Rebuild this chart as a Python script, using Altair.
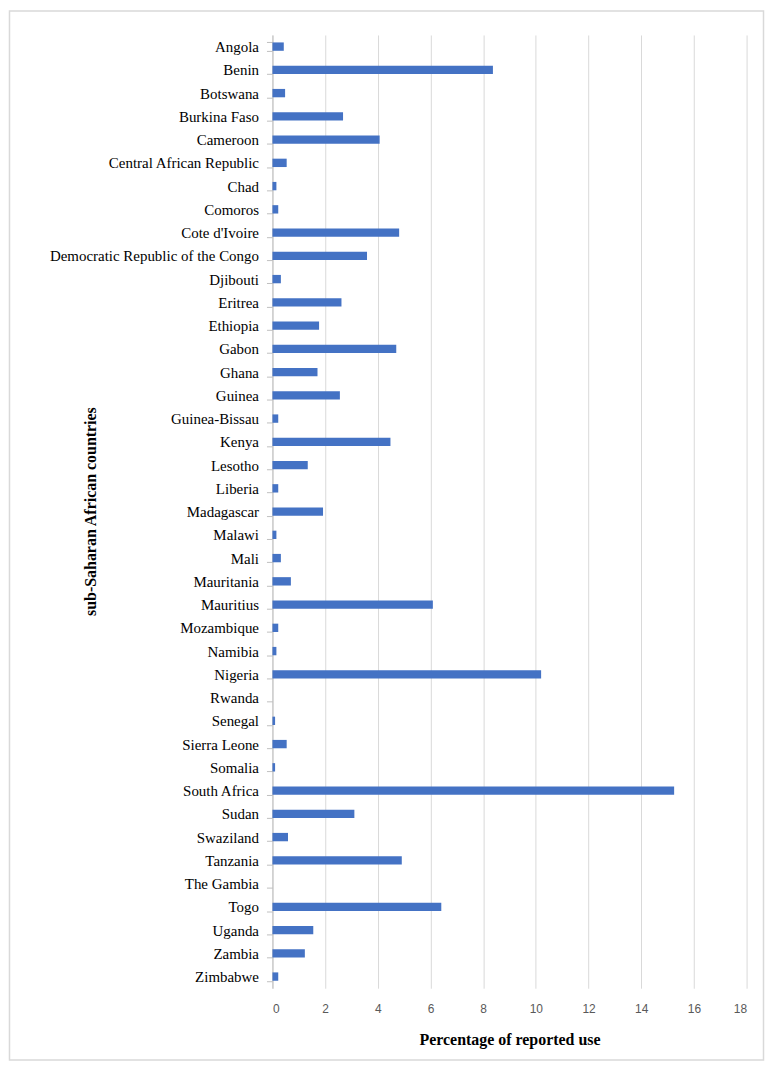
import altair as alt
import pandas as pd

countries = [
    "Angola", "Benin", "Botswana", "Burkina Faso", "Cameroon",
    "Central African Republic", "Chad", "Comoros", "Cote d'Ivoire",
    "Democratic Republic of the Congo", "Djibouti", "Eritrea", "Ethiopia",
    "Gabon", "Ghana", "Guinea", "Guinea-Bissau", "Kenya", "Lesotho",
    "Liberia", "Madagascar", "Malawi", "Mali", "Mauritania", "Mauritius",
    "Mozambique", "Namibia", "Nigeria", "Rwanda", "Senegal", "Sierra Leone",
    "Somalia", "South Africa", "Sudan", "Swaziland", "Tanzania",
    "The Gambia", "Togo", "Uganda", "Zambia", "Zimbabwe",
]
values = [
    0.43, 8.37, 0.48, 2.68, 4.07,
    0.54, 0.15, 0.22, 4.81,
    3.59, 0.32, 2.62, 1.77,
    4.70, 1.71, 2.56, 0.22, 4.48, 1.34,
    0.22, 1.92, 0.15, 0.32, 0.70, 6.09,
    0.22, 0.15, 10.2, 0.0, 0.10, 0.54,
    0.10, 15.25, 3.11, 0.59, 4.91,
    0.0, 6.41, 1.55, 1.23, 0.22,
]
x_ticks = [0, 2, 4, 6, 8, 10, 12, 14, 16, 18]

df = pd.DataFrame({"country": countries, "value": values})

W = 476
H = 957

bars = alt.Chart(df).mark_bar(color="#4472C4").encode(
    x=alt.X(
        "value:Q",
        scale=alt.Scale(domain=[0, 18], nice=False),
        axis=alt.Axis(
            values=x_ticks,
            title="Percentage of reported use",
            grid=True,
            gridColor="#d9d9d9",
            domain=False,
            ticks=False,
            labelFont="Liberation Sans",
            labelFontSize=12,
            labelColor="#595959",
            labelPadding=15,
            titleFont="Liberation Serif",
            titleFontSize=16,
            titleFontWeight="bold",
            titleColor="#000000",
            titlePadding=18,
        ),
    ),
    y=alt.Y(
        "country:N",
        sort=countries,
        scale=alt.Scale(paddingInner=0.64, paddingOuter=0.32),
        axis=alt.Axis(
            title="sub-Saharan African countries",
            grid=False,
            domain=True,
            domainColor="#bfbfbf",
            ticks=True,
            tickBand="extent",
            tickColor="#bfbfbf",
            tickSize=6,
            labelFont="Liberation Serif",
            labelFontSize=15,
            labelLimit=0,
            labelColor="#000000",
            labelPadding=8,
            titleFont="Liberation Serif",
            titleFontSize=16,
            titleFontWeight="bold",
            titleColor="#000000",
            titleAngle=270,
            titleX=-183,
            titleY=478,
            titleAlign="center",
            titleBaseline="middle",
        ),
    ),
)

frame = alt.Chart(pd.DataFrame({"a": [0]})).mark_rect(
    fill="transparent", stroke="#d9d9d9", strokeWidth=1.5
).encode(
    x=alt.value(-264),
    x2=alt.value(493),
    y=alt.value(-24),
    y2=alt.value(1029),
)

chart = alt.layer(frame, bars).properties(
    width=W,
    height=H,
    autosize=alt.AutoSizeParams(type="none"),
    padding={"left": 265.5, "top": 25, "right": 18.5, "bottom": 73},
).configure_view(stroke=None)

chart.save("out.html", embed_options={"renderer": "svg", "actions": False})
